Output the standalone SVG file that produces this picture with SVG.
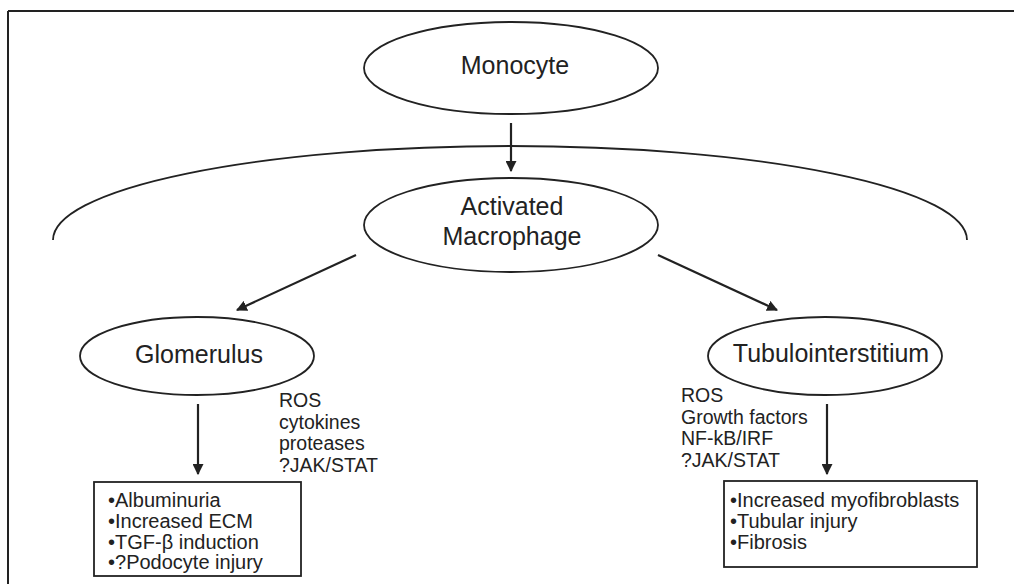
<svg xmlns="http://www.w3.org/2000/svg" width="1014" height="584" viewBox="0 0 1014 584">
<style>
.shape{fill:none;stroke:#222;stroke-width:1.8}
.lbl{font-family:"Liberation Sans",Arial,sans-serif;font-size:25px;fill:#222;text-anchor:middle}
.side{font-family:"Liberation Sans",Arial,sans-serif;font-size:19.5px;fill:#222}
.box{font-family:"Liberation Sans",Arial,sans-serif;font-size:20px;fill:#222}
.conn{stroke:#222;stroke-width:2.2;fill:none;marker-end:url(#ah)}
</style>
<defs>
<marker id="ah" viewBox="0 0 10 10" refX="9" refY="5" markerWidth="5" markerHeight="5" orient="auto" markerUnits="strokeWidth">
<path d="M0,0 L10,5 L0,10 Z" fill="#222"/>
</marker>
</defs>
<rect width="1014" height="584" fill="#fff"/>
<g id="frame">
<line x1="8" y1="11" x2="1014" y2="11" stroke="#222" stroke-width="2.2"/>
<line x1="8" y1="11" x2="8" y2="584" stroke="#222" stroke-width="2"/>
</g>
<g id="kidney-arc">
<path class="shape" d="M53,240 A457,94 0 0 1 967,240"/>
</g>
<g id="monocyte">
<ellipse class="shape" cx="511" cy="68" rx="147" ry="46"/>
<text class="lbl" x="515" y="74">Monocyte</text>
</g>
<g id="macrophage">
<ellipse class="shape" cx="511" cy="225" rx="147" ry="47"/>
<text class="lbl" x="512" y="215">Activated</text>
<text class="lbl" x="512" y="245">Macrophage</text>
</g>
<g id="glomerulus">
<ellipse class="shape" cx="197" cy="356" rx="117" ry="39"/>
<text class="lbl" x="199" y="363">Glomerulus</text>
</g>
<g id="tubulointerstitium">
<ellipse class="shape" cx="825" cy="356" rx="117" ry="39"/>
<text class="lbl" x="831" y="362">Tubulointerstitium</text>
</g>
<g id="glom-mediators">
<text class="side" x="279" y="407">ROS</text>
<text class="side" x="279" y="429">cytokines</text>
<text class="side" x="279" y="450">proteases</text>
<text class="side" x="279" y="472">?JAK/STAT</text>
</g>
<g id="tubulo-mediators">
<text class="side" x="681" y="402">ROS</text>
<text class="side" x="681" y="424">Growth factors</text>
<text class="side" x="681" y="445">NF-kB/IRF</text>
<text class="side" x="681" y="467">?JAK/STAT</text>
</g>
<g id="glom-effects">
<rect class="shape" x="94" y="482" width="207" height="94"/>
<text class="box" x="108" y="507">•Albuminuria</text>
<text class="box" x="108" y="528">•Increased ECM</text>
<text class="box" x="108" y="549">•TGF-β induction</text>
<text class="box" x="108" y="569">•?Podocyte injury</text>
</g>
<g id="tubulo-effects">
<rect class="shape" x="724" y="481" width="253" height="86"/>
<text class="box" x="730" y="507">•Increased myofibroblasts</text>
<text class="box" x="730" y="528">•Tubular injury</text>
<text class="box" x="730" y="549">•Fibrosis</text>
</g>
<g id="connectors">
<line class="conn" x1="511" y1="123" x2="511" y2="171"/>
<line class="conn" x1="356" y1="255" x2="237" y2="310"/>
<line class="conn" x1="658" y1="255" x2="777" y2="310"/>
<line class="conn" x1="198" y1="404" x2="198" y2="474"/>
<line class="conn" x1="827" y1="404" x2="827" y2="474"/>
</g>
</svg>
